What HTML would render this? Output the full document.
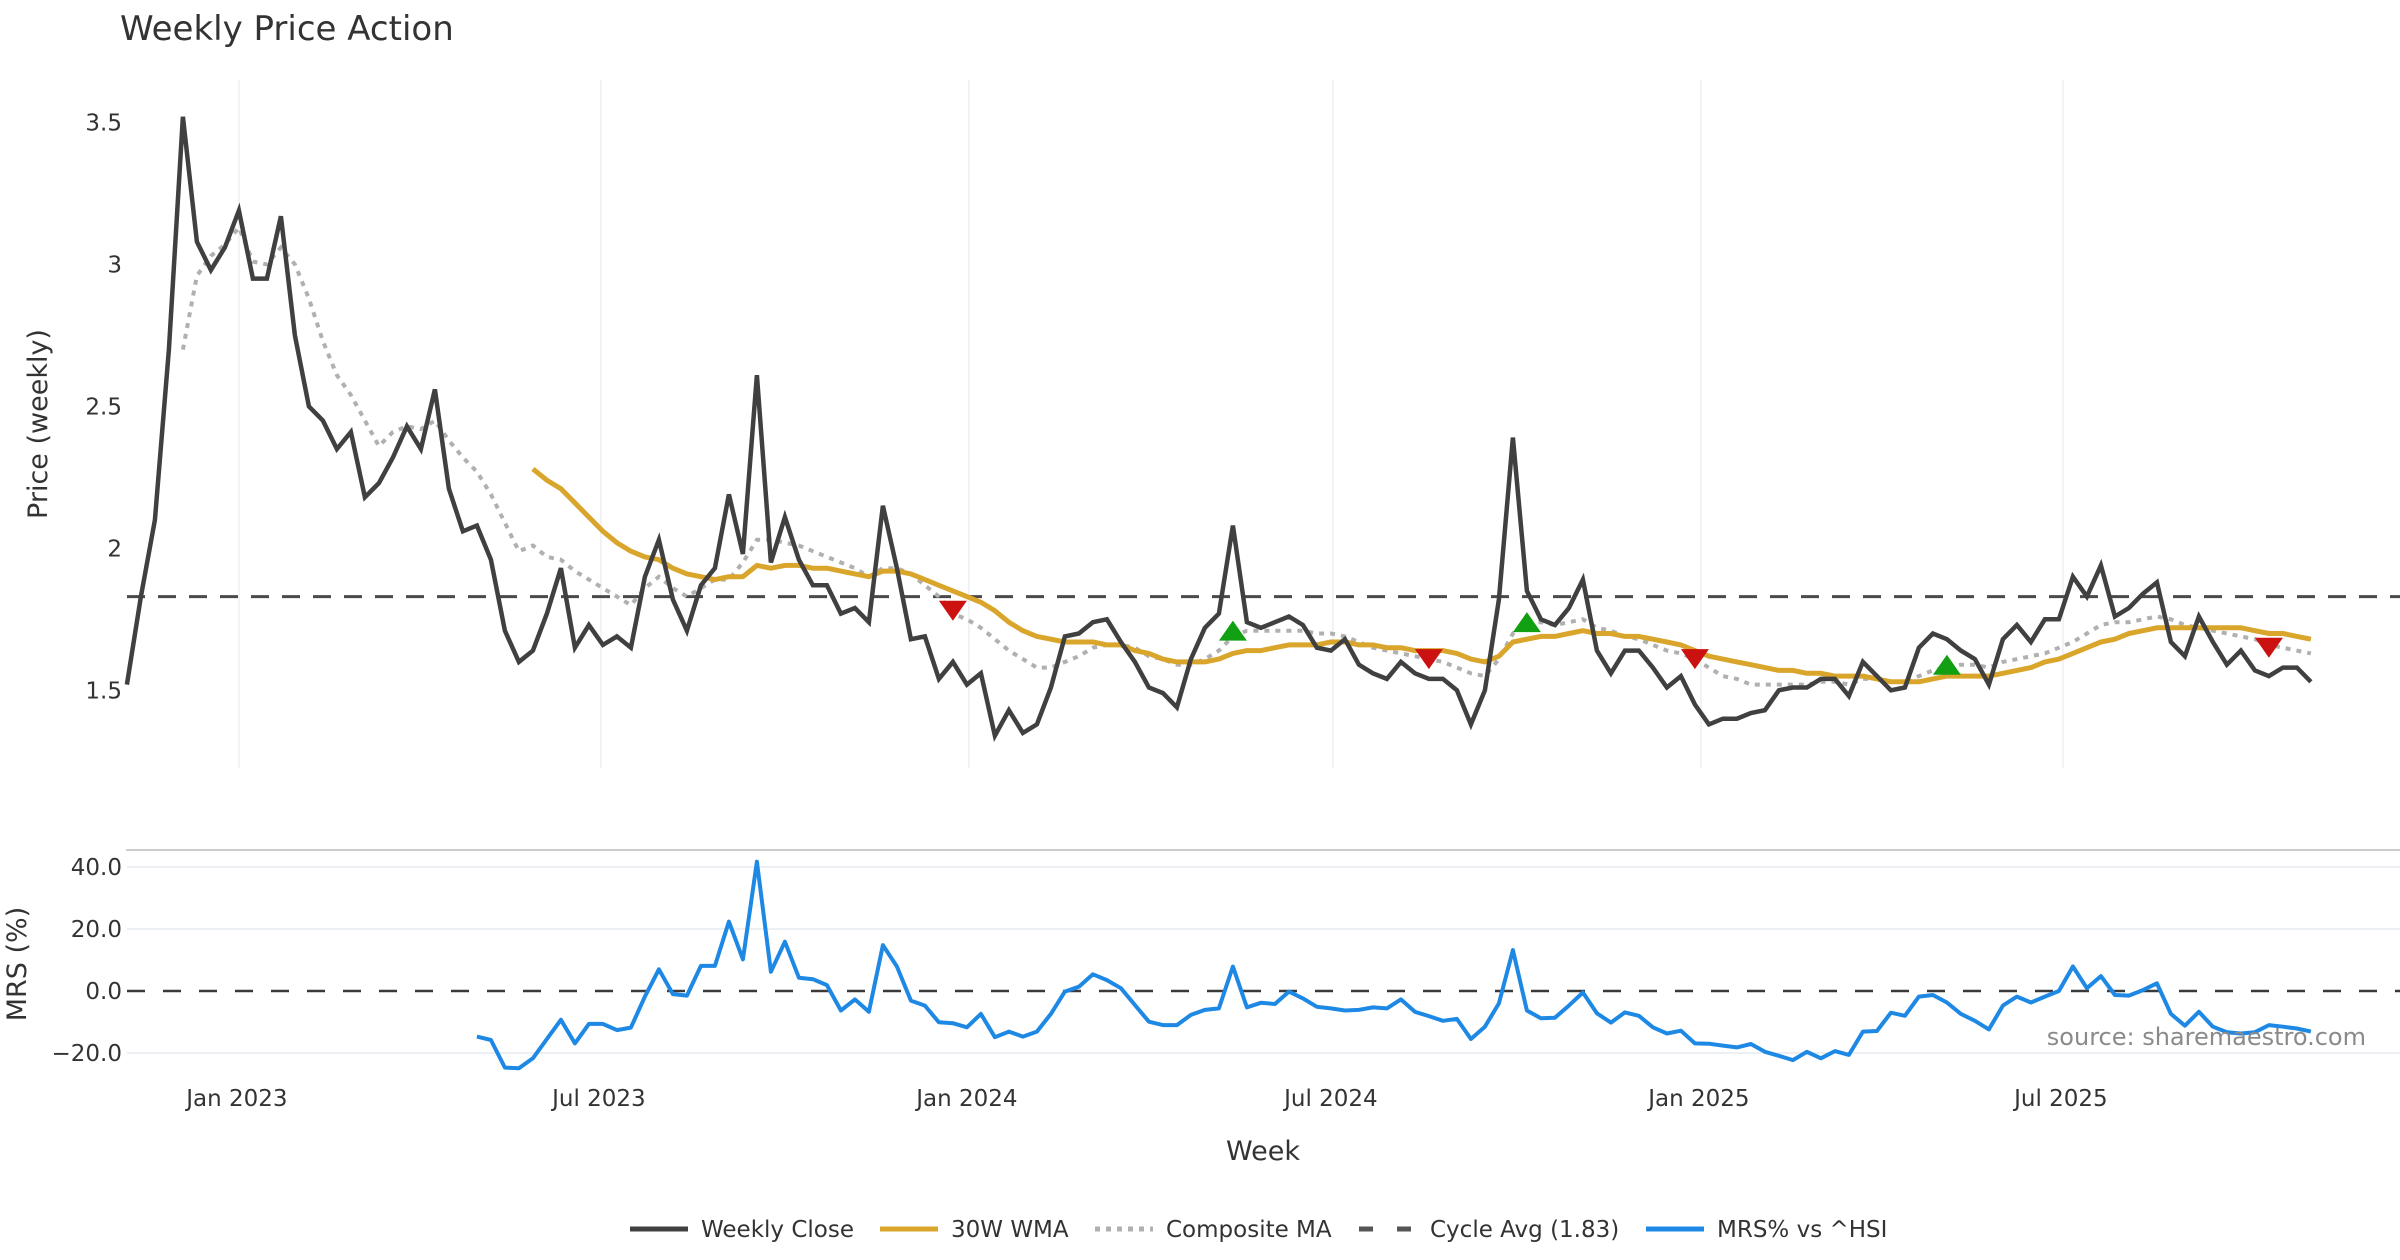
<!DOCTYPE html>
<html><head><meta charset="utf-8"><style>
html,body{margin:0;padding:0;background:#fff;}
svg{display:block;font-family:"DejaVu Sans","Liberation Sans",sans-serif;}
</style></head><body>
<svg id="chart" width="2400" height="1260" viewBox="0 0 2400 1260" xmlns="http://www.w3.org/2000/svg">
<text x="120" y="40" font-size="34" fill="#333">Weekly Price Action</text>
<text transform="translate(47,424) rotate(-90)" text-anchor="middle" font-size="27" fill="#333">Price (weekly)</text>
<text transform="translate(26,964) rotate(-90)" text-anchor="middle" font-size="27" fill="#333">MRS (%)</text>
<text x="1263" y="1160" text-anchor="middle" font-size="27" fill="#333">Week</text>
<line x1="126" y1="850" x2="2400" y2="850" stroke="#ccc" stroke-width="2"/>
<g id="grid"></g>
<g id="series"></g>
<text x="2366" y="1045" text-anchor="end" font-size="24" fill="#8a8a8a">source: sharemaestro.com</text>
<g id="legend"></g>
</svg>
<script>
const startDate = new Date(2022, 10, 6);
const tickLabels = ["Jan 2023","Jul 2023","Jan 2024","Jul 2024","Jan 2025","Jul 2025"];
const tickDates = ["2023-01-01","2023-07-01","2024-01-01","2024-07-01","2025-01-01","2025-07-01"];
const priceTicks = [1.5,2,2.5,3,3.5];
const priceTickLabels = ["1.5","2","2.5","3","3.5"];
const mrsTicks = [40,20,0,-20];
const mrsTickLabels = ["40.0","20.0","0.0","\u221220.0"];
const cycleAvg = 1.83;
const close = [1.52,1.83,2.10,2.70,3.52,3.08,2.98,3.06,3.19,2.95,2.95,3.17,2.75,2.50,2.45,2.35,2.41,2.18,2.23,2.32,2.43,2.35,2.56,2.21,2.06,2.08,1.96,1.71,1.60,1.64,1.77,1.93,1.65,1.73,1.66,1.69,1.65,1.90,2.03,1.82,1.71,1.87,1.93,
2.19,1.98,2.61,1.95,2.11,1.96,1.87,1.87,1.77,1.79,1.74,2.15,1.93,1.68,1.69,1.54,1.60,1.52,1.56,1.34,1.43,1.35,1.38,1.51,1.69,1.70,1.74,1.75,1.67,1.60,1.51,1.49,1.44,1.61,1.72,1.77,2.08,1.74,1.72,1.74,1.76,
1.73,1.65,1.64,1.68,1.59,1.56,1.54,1.60,1.56,1.54,1.54,1.50,1.38,1.50,1.82,2.39,1.85,1.75,1.73,1.79,1.89,1.64,1.56,1.64,1.64,1.58,1.51,1.55,1.45,1.38,1.40,1.40,1.42,1.43,1.50,1.51,1.51,1.54,1.54,1.48,
1.60,1.55,1.50,1.51,1.65,1.70,1.68,1.64,1.61,1.52,1.68,1.73,1.67,1.75,1.75,1.90,1.83,1.94,1.76,1.79,1.84,1.88,1.67,1.62,1.76,1.67,1.59,1.64,1.57,1.55,1.58,1.58,1.53];
const wma = Array(29).fill(null).concat([2.28,2.24,2.21,2.16,2.11,2.06,2.02,1.99,1.97,1.96,1.93,1.91,1.90,1.89,
1.90,1.90,1.94,1.93,1.94,1.94,1.93,1.93,1.92,1.91,1.90,1.92,1.92,1.91,1.89,1.87,1.85,1.83,1.81,1.78,1.74,1.71,1.69,1.68,1.67,1.67,1.67,1.66,1.66,1.64,1.63,1.61,1.60,1.60,1.60,1.61,1.63,1.64,1.64,1.65,1.66,
1.66,1.66,1.67,1.67,1.66,1.66,1.65,1.65,1.64,1.64,1.64,1.63,1.61,1.60,1.62,1.67,1.68,1.69,1.69,1.70,1.71,1.70,1.70,1.69,1.69,1.68,1.67,1.66,1.64,1.62,1.61,1.60,1.59,1.58,1.57,1.57,1.56,1.56,1.55,1.55,
1.55,1.54,1.53,1.53,1.53,1.54,1.55,1.55,1.55,1.55,1.56,1.57,1.58,1.60,1.61,1.63,1.65,1.67,1.68,1.70,1.71,1.72,1.72,1.72,1.72,1.72,1.72,1.72,1.71,1.70,1.70,1.69,1.68]);
const composite = Array(4).fill(null).concat([2.70,2.96,3.03,3.07,3.13,3.01,3.00,3.06,3.00,2.88,2.73,2.61,2.54,2.45,2.36,2.41,2.43,2.42,2.45,2.38,2.32,2.27,2.19,2.09,1.99,2.01,1.97,1.96,1.92,1.89,1.86,1.83,1.80,1.86,1.90,1.86,1.83,1.86,1.89,
1.89,1.95,2.03,2.03,2.02,2.01,1.99,1.97,1.95,1.93,1.90,1.93,1.93,1.91,1.87,1.83,1.77,1.75,1.72,1.68,1.64,1.61,1.58,1.58,1.60,1.62,1.65,1.66,1.66,1.65,1.62,1.61,1.59,1.59,1.61,1.64,1.69,1.71,1.71,1.71,1.71,
1.71,1.70,1.70,1.69,1.67,1.65,1.64,1.63,1.62,1.61,1.60,1.58,1.56,1.55,1.61,1.70,1.74,1.74,1.73,1.74,1.75,1.72,1.71,1.69,1.68,1.66,1.64,1.63,1.61,1.58,1.55,1.54,1.52,1.52,1.52,1.52,1.52,1.53,1.53,1.52,
1.54,1.54,1.53,1.53,1.55,1.57,1.58,1.59,1.59,1.58,1.60,1.61,1.62,1.63,1.65,1.67,1.70,1.73,1.74,1.74,1.75,1.76,1.75,1.73,1.72,1.71,1.70,1.69,1.68,1.66,1.65,1.64,1.63]);
const mrs = Array(25).fill(null).concat([-14.7,-15.8,-24.7,-24.9,-21.7,-15.5,-9.3,-16.9,-10.6,-10.6,-12.6,-11.8,-1.8,7.0,-1.0,-1.5,8.1,8.1,22.4,10.2,41.7,6.2,15.9,4.3,3.8,1.9,-6.3,-2.7,-6.7,14.8,7.9,-3.1,-4.7,-10.1,-10.4,-11.7,-7.4,-14.9,-13.1,-14.7,-13.1,-7.4,-0.2,1.4,5.4,3.5,0.9,-4.5,-9.9,-11.0,-11.0,-7.7,-6.1,-5.6,7.9,-5.3,-3.8,-4.2,-0.2,-2.4,-5.1,-5.6,
-6.3,-6.1,-5.3,-5.6,-2.7,-6.7,-8.1,-9.6,-9.0,-15.5,-11.5,-4.0,13.2,-6.3,-8.8,-8.6,-4.7,-0.5,-7.2,-10.2,-6.9,-8.0,-11.7,-13.7,-12.8,-16.9,-17.0,-17.6,-18.2,-17.1,-19.6,-20.9,-22.3,-19.6,-21.7,-19.4,-20.6,-13.1,-12.9,-7.0,-8.0,-1.8,-1.3,-3.7,-7.4,-9.6,-12.4,-4.7,-1.8,-3.7,-1.8,0.0,7.9,0.9,4.8,-1.3,-1.5,0.3,2.5,-7.4,-11.2,-6.7,-11.5,-13.3,-13.7,-13.3,-11.0,-11.5,-12.1,-13.1]);
const sellIdx = [59,93,112,153];
const sellPrice = [1.78,1.61,1.61,1.65];
const buyIdx = [79,100,130];
const buyPrice = [1.71,1.74,1.59];

const NS = "http://www.w3.org/2000/svg";
const X = i => 126.9 + i * 14.0;
const Xd = s => X((new Date(s + "T00:00:00") - startDate) / (7 * 86400000));
const YP = p => 690.3 - (p - 1.5) * 283.9;
const YM = v => 991 - v * 3.1;
function mk(tag, attrs, parent, text) {
  const e = document.createElementNS(NS, tag);
  for (const k in attrs) e.setAttribute(k, attrs[k]);
  if (text !== undefined) e.textContent = text;
  parent.appendChild(e);
  return e;
}
const grid = document.getElementById("grid");
const ser = document.getElementById("series");
const leg = document.getElementById("legend");

tickDates.forEach((d, k) => {
  const x = Xd(d);
  const g = mk("line", {x1: x, x2: x, y1: 80, y2: 768, stroke: "#f0f2f5", "stroke-width": 2}, grid);
  
  
  const t = mk("text", {x: x - 2, y: 1106, "text-anchor": "middle", "font-size": 23, fill: "#333"}, grid, tickLabels[k]);
  
  
});
priceTicks.forEach((p, k) => {
  const t = mk("text", {x: 122, y: YP(p) + 8, "text-anchor": "end", "font-size": 23, fill: "#333"}, grid, priceTickLabels[k]);
  
  
});
mrsTicks.forEach((v, k) => {
  if (v !== 0) {
    const g = mk("line", {x1: 127, x2: 2400, y1: YM(v), y2: YM(v), stroke: "#eceff3", "stroke-width": 2}, grid);
    
    
  }
  const t = mk("text", {x: 122, y: YM(v) + 8, "text-anchor": "end", "font-size": 23, fill: "#333"}, grid, mrsTickLabels[k]);
  
  
});

function pathOf(arr, yf) {
  let d = "", pen = false;
  arr.forEach((v, i) => {
    if (v === null) { pen = false; return; }
    d += (pen ? "L" : "M") + X(i).toFixed(1) + "," + yf(v).toFixed(1);
    pen = true;
  });
  return d;
}
const cyc = mk("line", {x1: 127, x2: 2400, y1: YP(cycleAvg), y2: YP(cycleAvg), stroke: "#4a4a4a", "stroke-width": 3, "stroke-dasharray": "18,13"}, ser);


const zero = mk("line", {x1: 127, x2: 2400, y1: YM(0), y2: YM(0), stroke: "#3a3a3a", "stroke-width": 2.5, "stroke-dasharray": "18,18"}, ser);


const pc = mk("path", {d: pathOf(composite, YP), fill: "none", stroke: "#b0b0b0", "stroke-width": 4, "stroke-dasharray": "5,6"}, ser);


const pw = mk("path", {d: pathOf(wma, YP), fill: "none", stroke: "#d9a52b", "stroke-width": 5, "stroke-linejoin": "round"}, ser);


const pcl = mk("path", {d: pathOf(close, YP), fill: "none", stroke: "#404040", "stroke-width": 4.5, "stroke-linejoin": "miter"}, ser);


const pm = mk("path", {d: pathOf(mrs, YM), fill: "none", stroke: "#1e88e5", "stroke-width": 4, "stroke-linejoin": "round"}, ser);


sellIdx.forEach((i, k) => {
  const x = X(i), y = YP(sellPrice[k]);
  const t = mk("polygon", {points: `${x-14},${y-10} ${x+14},${y-10} ${x},${y+10}`, fill: "#cc1111"}, ser);
  
  
});
buyIdx.forEach((i, k) => {
  const x = X(i), y = YP(buyPrice[k]);
  const t = mk("polygon", {points: `${x-14},${y+10} ${x+14},${y+10} ${x},${y-10}`, fill: "#11a011"}, ser);
  
  
});

const legendNames = ["Weekly Close","30W WMA","Composite MA","Cycle Avg (1.83)","MRS% vs ^HSI"];
const legendX = [630,880,1095,1359,1646];
const legendStroke = ["#404040","#d9a52b","#b0b0b0","#555","#1e88e5"];
const legendDash = ["","","5,6","14,24",""];
legendNames.forEach((n, k) => {
  const l = mk("line", {x1: legendX[k], x2: legendX[k] + 58, y1: 1229, y2: 1229, stroke: legendStroke[k], "stroke-width": 5, "stroke-dasharray": legendDash[k]}, leg);
  
  
  const t = mk("text", {x: legendX[k] + 71, y: 1237, "font-size": 23, fill: "#333"}, leg, n);
  
  
});
</script>
</body></html>
